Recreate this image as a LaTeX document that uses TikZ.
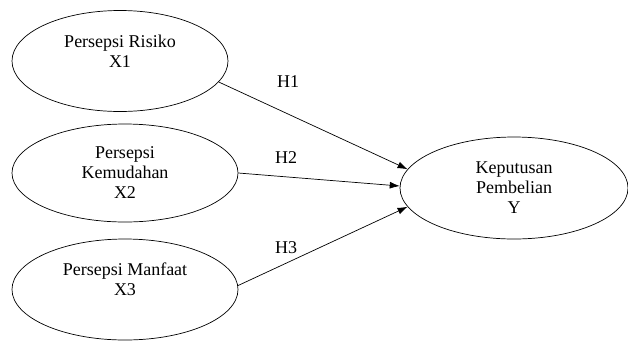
\documentclass[tikz,border=0pt]{standalone}
\usepackage{fontspec}
\setmainfont{Liberation Serif}
\usetikzlibrary{shapes.geometric,arrows.meta}
\tikzstyle{var}=[draw=black,ellipse,inner sep=0pt,align=center,minimum width=#1,minimum height=101pt]
\tikzstyle{hyp}=[inner sep=0pt]
\newcommand{\myedge}[2]{\draw[-{Latex[length=10pt,width=7pt]}] (#1) -- (#2);}

\begin{document}
\begin{tikzpicture}[x=1pt,y=-1pt,line width=0.7pt,font=\fontsize{18}{20}\selectfont]
    \useasboundingbox (0,0) rectangle (628,341);
    % constructs
    \node[var=216pt] (x1) at (120,61) {Persepsi Risiko\\X1\\\mbox{}};
    \node[var=226pt,minimum height=98pt] (x2) at (125,173) {Persepsi\\Kemudahan\\X2};
    \node[var=226pt] (x3) at (125,289.5) {Persepsi Manfaat\\X3\\\mbox{}};
    \node[var=228pt,minimum height=102pt] (y) at (514,188) {Keputusan\\Pembelian\\Y};

    % hypotheses
    \node[hyp] (h1) at (288,82) {H1};
    \node[hyp] (h2) at (286,158) {H2};
    \node[hyp] (h3) at (286,248) {H3};

    \myedge{x1.-12.7}{y.170.5}
    \myedge{x2.east}{y.179}
    \myedge{x3.2.3}{y.190}

\end{tikzpicture}
\end{document}
